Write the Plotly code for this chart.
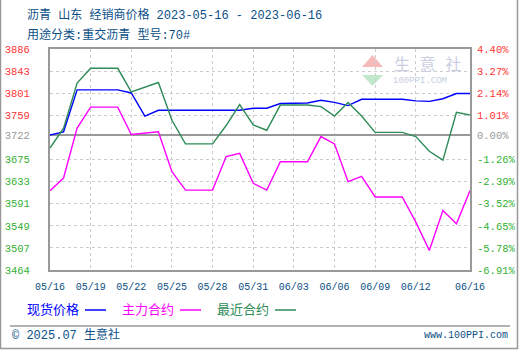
import plotly.graph_objects as go

# ---- data -------------------------------------------------------------
dates = [
    "2023-05-16", "2023-05-17", "2023-05-18", "2023-05-19", "2023-05-20", "2023-05-21",
    "2023-05-22", "2023-05-23", "2023-05-24", "2023-05-25", "2023-05-26", "2023-05-27",
    "2023-05-28", "2023-05-29", "2023-05-30", "2023-05-31", "2023-06-01", "2023-06-02",
    "2023-06-03", "2023-06-04", "2023-06-05", "2023-06-06", "2023-06-07", "2023-06-08",
    "2023-06-09", "2023-06-10", "2023-06-11", "2023-06-12", "2023-06-13", "2023-06-14",
    "2023-06-15", "2023-06-16",
]
spot_price = [3722, 3728, 3808, 3808, 3808, 3808, 3802, 3758, 3769, 3769, 3769, 3769,
              3769, 3769, 3769, 3773, 3773, 3782, 3782, 3783, 3788, 3784, 3778, 3790,
              3790, 3790, 3790, 3787, 3786, 3791, 3801, 3801]
main_contract = [3616, 3640, 3735, 3775, 3775, 3775, 3723, 3725, 3728, 3652, 3617, 3617,
                 3617, 3681, 3687, 3630, 3617, 3671, 3671, 3671, 3719, 3705, 3633, 3643,
                 3604, 3604, 3604, 3556, 3502, 3578, 3553, 3616]
nearest_contract = [3697, 3735, 3821, 3849, 3849, 3849, 3804, 3813, 3822, 3750, 3705, 3705,
                    3705, 3740, 3780, 3741, 3731, 3779, 3779, 3779, 3776, 3758, 3784, 3758,
                    3727, 3727, 3727, 3719, 3691, 3674, 3765, 3760]

base_price = 3722
pct_ticks = [4.40, 3.27, 2.14, 1.01, 0.00, -1.26, -2.39, -3.52, -4.65, -5.78, -6.91]
price_tick_labels = ["3886", "3843", "3801", "3759", "3722", "3675", "3633", "3591",
                     "3549", "3507", "3464"]
x_tick_dates = ["2023-05-16", "2023-05-19", "2023-05-22", "2023-05-25", "2023-05-28",
                "2023-05-31", "2023-06-03", "2023-06-06", "2023-06-09", "2023-06-12",
                "2023-06-16"]
x_tick_labels = ["05/16", "05/19", "05/22", "05/25", "05/28", "05/31", "06/03", "06/06",
                 "06/09", "06/12", "06/16"]

series_names = ["现货价格", "主力合约", "最近合约"]
series_colors = ["#0000ff", "#ff00ff", "#2e8b57"]

# ---- styling ----------------------------------------------------------
FONT = "Liberation Mono, Noto Sans CJK SC, monospace"
TEXT_BLUE = "#0b4f86"
UP_RED = "#ff3333"
FLAT_GRAY = "#999999"
DOWN_GREEN = "#33b033"
GRID = "#cccccc"
FRAME = "#999999"

W, H = 520, 350
L, R, T, B = 50, 50, 49, 80
PW, PH = W - L - R, H - T - B


def px(x):
    return (x - L) / PW


def py(y):
    return (H - B - y) / PH


def tick_color(p):
    if p > 0:
        return UP_RED
    if p < 0:
        return DOWN_GREEN
    return FLAT_GRAY


lo_pct, hi_pct = min(pct_ticks), max(pct_ticks)
price_range = [base_price * (1 + lo_pct / 100), base_price * (1 + hi_pct / 100)]

fig = go.Figure()
for name, vals, col in zip(series_names, [spot_price, main_contract, nearest_contract],
                           series_colors):
    fig.add_trace(go.Scatter(x=dates, y=vals, name=name, mode="lines",
                             line=dict(color=col, width=1.4), showlegend=False,
                             yaxis="y"))

# invisible trace to activate the percent axis
fig.add_trace(go.Scatter(x=[dates[0]], y=[0], yaxis="y2", mode="markers",
                         marker=dict(opacity=0), showlegend=False, hoverinfo="skip"))

left_tickvals = [base_price * (1 + p / 100) for p in pct_ticks]
left_ticktext = [f'<span style="color:{tick_color(p)}">{t}</span>'
                 for p, t in zip(pct_ticks, price_tick_labels)]
right_ticktext = [f'<span style="color:{tick_color(p)}">{p:.2f}%</span>' for p in pct_ticks]

fig.update_layout(
    width=W, height=H,
    margin=dict(l=L, r=R, t=T, b=B, pad=0, autoexpand=False),
    paper_bgcolor="white", plot_bgcolor="white",
    font=dict(family=FONT, size=11, color=TEXT_BLUE),
    xaxis=dict(
        type="date", range=[dates[0], dates[-1]],
        tickvals=x_tick_dates, ticktext=x_tick_labels,
        tickfont=dict(family=FONT, size=10, color=TEXT_BLUE),
        showgrid=True, gridcolor=GRID, griddash="3px,3px", gridwidth=1,
        showline=True, linecolor=FRAME, linewidth=2, mirror=True,
        ticks="", zeroline=False, automargin=False, ticklabelstandoff=6,
    ),
    yaxis=dict(
        range=price_range, tickvals=left_tickvals, ticktext=left_ticktext,
        tickfont=dict(family=FONT, size=10.5),
        showgrid=False, zeroline=False,
        showline=True, linecolor=FRAME, linewidth=2, mirror=True,
        ticks="", ticklabelstandoff=16, automargin=False,
    ),
    yaxis2=dict(
        range=[lo_pct, hi_pct], overlaying="y", side="right",
        tickvals=pct_ticks, ticktext=right_ticktext,
        tickfont=dict(family=FONT, size=10.5),
        showgrid=True, gridcolor=GRID, griddash="3px,3px", gridwidth=1,
        zeroline=True, zerolinecolor=FLAT_GRAY, zerolinewidth=1.5,
        showline=False, ticks="", ticklabelstandoff=6, automargin=False,
    ),
    hovermode=False,
)

annotations = [
    dict(text="沥青 山东 经销商价格 2023-05-16 - 2023-06-16", x=px(25), y=py(15),
         font=dict(size=12, color=TEXT_BLUE)),
    dict(text="用途分类:重交沥青 型号:70#", x=px(25), y=py(35),
         font=dict(size=12, color=TEXT_BLUE)),
    dict(text="© 2025.07 生意社", x=px(10), y=py(335),
         font=dict(size=12, color=TEXT_BLUE)),
    dict(text="www.100PPI.com", x=px(510), y=py(335), xanchor="right",
         font=dict(size=10, color=TEXT_BLUE)),
    # faint site mark inside the plot
    dict(text="生 意 社", x=px(392), y=py(65), font=dict(size=16, color="#c9cee2")),
    dict(text="100PPI.COM", x=px(391), y=py(81), font=dict(size=9, color="#c9cee2")),
]

shapes = []
legend_x = [25, 120, 215]
for name, col, lx in zip(series_names, series_colors, legend_x):
    annotations.append(dict(text=name, x=px(lx), y=py(310), font=dict(size=13, color=col)))
    shapes.append(dict(type="line", xref="paper", yref="paper",
                       x0=px(lx + 60), x1=px(lx + 81), y0=py(310), y1=py(310),
                       line=dict(color=col, width=1.5)))

for a in annotations:
    a.update(xref="paper", yref="paper", showarrow=False)
    a.setdefault("xanchor", "left")
    a.setdefault("yanchor", "middle")

# footer separator and outer frame
shapes += [
    dict(type="line", xref="paper", yref="paper", x0=px(10), x1=px(510),
         y0=py(326), y1=py(326), line=dict(color="#999999", width=1.5)),
    dict(type="line", xref="paper", yref="paper", x0=px(0.5), x1=px(0.5),
         y0=py(0), y1=py(349), line=dict(color="#999999", width=1.5)),
    dict(type="line", xref="paper", yref="paper", x0=px(517.5), x1=px(517.5),
         y0=py(0), y1=py(349), line=dict(color="#999999", width=1.5)),
    dict(type="line", xref="paper", yref="paper", x0=px(0), x1=px(518),
         y0=py(348.5), y1=py(348.5), line=dict(color="#999999", width=1.5)),
    # site mark triangles
    dict(type="path", xref="paper", yref="paper", layer="below",
         path=f"M {px(372.5)},{py(55)} L {px(362)},{py(67)} L {px(383)},{py(67)} Z",
         fillcolor="#f6baba", line=dict(width=0)),
    dict(type="path", xref="paper", yref="paper", layer="below",
         path=f"M {px(362)},{py(75)} L {px(383)},{py(75)} L {px(372.5)},{py(86)} Z",
         fillcolor="#c2e8cb", line=dict(width=0)),
]

fig.update_layout(annotations=annotations, shapes=shapes)
fig.write_html("out.html")
